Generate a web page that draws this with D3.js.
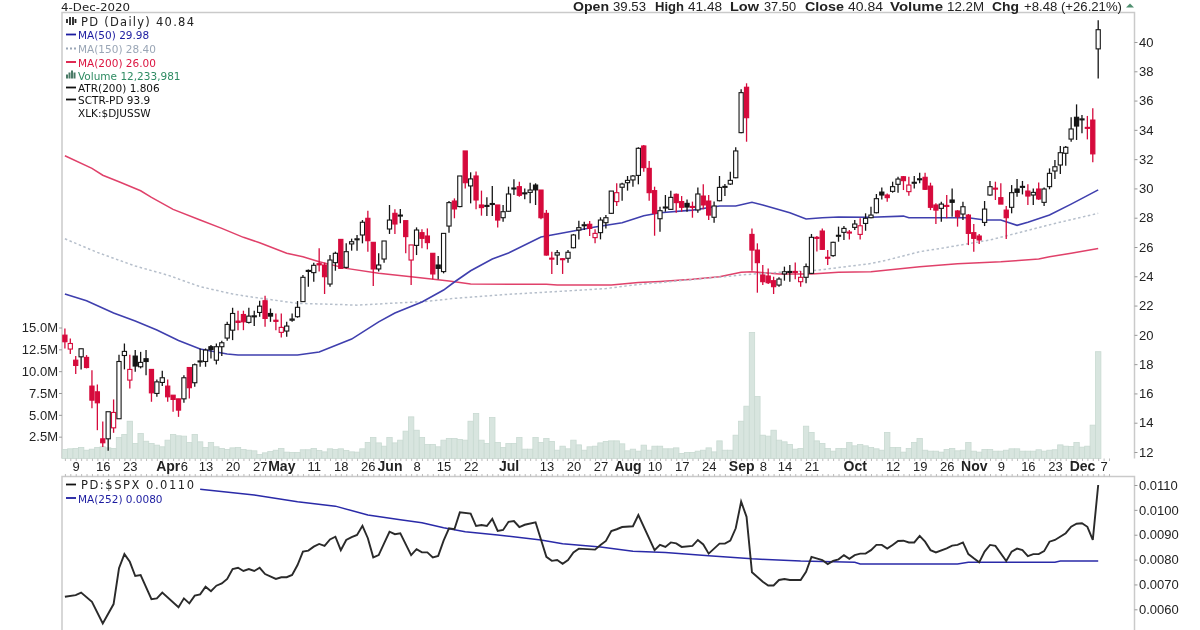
<!DOCTYPE html>
<html><head><meta charset="utf-8">
<script src="https://d3js.org/d3.v7.min.js"></script>
<style>
html,body{margin:0;padding:0;background:#fff;overflow:hidden}
svg{display:block;filter:blur(0.3px)}
text{font-family:"Liberation Sans",Arial,sans-serif;fill:#222}
.lg{font-family:"DejaVu Sans",sans-serif;font-size:10.5px}
</style></head><body>
<svg id="c" width="1200" height="630"></svg>
<script>
const opens=[19.98,19.03,18.27,18.50,18.46,16.50,16.11,12.90,12.90,13.65,
14.27,18.59,16.91,18.55,17.82,18.37,17.64,16.0,16.75,16.50,
15.88,15.63,15.63,17.77,16.73,18.18,18.18,19.19,18.27,19.19,
19.78,20.32,20.94,21.39,20.85,21.28,21.53,22.33,21.46,21.0,
20.17,20.26,21.0,21.24,22.27,24.36,24.25,24.86,24.77,23.47,
24.93,26.52,24.61,26.21,26.52,26.82,27.96,26.32,24.50,25.18,
27.23,28.30,28.12,27.80,25.11,26.11,26.98,26.75,25.57,24.77,
24.32,27.43,29.14,28.76,32.56,30.17,30.85,28.87,28.80,28.92,
28.87,28.0,28.44,30.0,30.12,29.66,29.73,30.23,29.89,28.30,
25.24,25.45,25.20,25.23,25.95,27.16,27.48,27.55,26.64,26.98,
27.66,28.30,29.10,30.08,30.39,30.58,30.89,32.90,31.37,29.85,
27.93,28.69,28.57,29.60,29.10,28.98,28.77,28.53,29.48,29.14,
28.03,29.16,30.10,30.30,30.73,33.81,36.91,26.86,25.79,24.09,
24.02,23.70,23.40,24.16,24.29,24.33,23.63,23.93,24.20,26.66,
27.09,25.30,25.41,26.77,27.0,27.02,27.34,26.86,27.61,28.0,
28.34,29.75,29.55,29.80,30.28,30.80,29.78,30.37,30.62,30.76,
30.16,28.87,28.64,28.84,29.21,28.46,28.25,28.18,26.98,26.75,
27.68,29.55,30.02,29.37,28.52,28.71,29.96,30.10,29.82,29.55,
29.96,29.05,30.12,31.19,31.60,32.40,33.37,34.86,34.71,34.17,34.67,39.53];
const highs=[20.44,19.75,18.55,19.05,18.62,17.59,16.61,14.09,14.68,15.59,
18.64,19.41,18.64,18.96,18.84,18.96,17.64,16.95,17.55,16.95,
15.88,15.63,17.25,17.77,18.05,19.07,19.07,19.30,19.41,19.60,
20.89,21.85,21.65,21.65,21.85,21.65,22.33,22.67,21.80,21.46,
21.46,20.89,21.46,22.31,24.09,24.47,24.93,25.91,24.93,25.45,
25.68,26.52,26.25,26.57,26.82,27.84,28.48,26.32,25.57,26.41,
28.87,28.57,28.60,27.80,26.14,27.34,27.21,27.27,25.57,25.39,
26.93,29.14,29.32,30.85,32.56,31.10,31.15,29.85,29.39,30.17,
28.87,28.87,30.12,30.62,30.46,30.0,30.39,30.35,29.89,28.53,
25.68,25.80,25.24,25.80,26.89,27.80,27.73,27.77,27.21,28.03,
28.18,29.82,30.35,30.39,30.85,30.92,32.81,32.97,31.87,30.12,
28.75,29.55,29.85,29.66,29.48,29.25,29.10,30.07,30.28,29.55,
29.10,30.85,30.30,31.14,32.81,36.77,37.18,27.27,26.25,24.77,
24.54,23.97,23.93,24.66,24.77,24.95,24.36,24.88,26.89,26.75,
27.27,25.79,26.36,27.39,27.43,27.16,27.84,27.96,28.30,28.75,
29.62,30.07,29.66,30.46,30.80,30.85,30.80,30.85,31.07,31.07,
30.39,28.98,29.09,29.55,30.0,28.52,29.09,28.25,27.57,26.89,
29.14,30.51,30.46,30.35,28.80,30.23,30.64,30.51,30.28,30.0,
30.41,30.07,31.37,31.94,32.90,32.90,34.86,35.74,35.01,34.95,35.47,41.48];
const lows=[19.07,18.69,17.32,17.64,17.71,14.98,13.49,12.35,12.08,13.31,
14.27,17.64,16.34,17.48,17.71,17.25,15.43,15.77,16.50,15.43,
14.75,14.40,15.36,15.66,16.45,17.82,17.82,18.39,17.98,18.55,
19.60,19.64,20.32,20.32,20.78,20.6,21.24,20.55,20.89,20.32,
19.82,19.87,20.89,21.17,22.27,23.29,23.63,24.32,22.79,23.29,
24.38,24.54,24.54,25.75,25.75,26.25,25.68,23.34,24.32,24.93,
26.89,26.89,27.62,25.57,23.40,25.45,25.91,25.84,23.79,23.79,
24.20,26.98,27.96,28.71,30.0,28.98,28.57,28.14,28.12,28.12,
27.34,27.73,28.41,29.55,29.44,29.26,28.98,28.87,27.89,25.41,
24.16,24.77,24.16,24.93,25.91,26.52,27.16,26.75,26.25,26.52,
27.27,28.25,28.80,29.16,29.85,30.12,30.28,31.14,29.16,26.77,
27.05,28.41,28.53,28.34,28.41,28.41,28.0,28.34,28.57,27.84,
27.66,29.12,29.48,30.23,30.69,33.76,33.19,24.38,22.88,23.4,
23.47,22.79,23.29,23.70,23.63,23.79,23.29,23.52,24.16,25.7,
25.79,24.77,25.34,26.36,26.48,26.52,27.16,26.52,27.11,27.96,
28.30,29.25,29.09,29.71,29.71,29.89,29.50,30.0,30.35,29.89,
28.52,27.57,27.73,27.96,28.07,27.39,27.84,26.13,25.68,26.20,
27.43,29.50,29.21,28.93,26.54,28.30,29.43,29.59,28.87,28.87,
29.21,28.80,29.94,30.64,30.98,31.55,33.19,33.31,33.76,33.35,31.78,37.50];
const closes=[19.53,19.41,17.91,19.05,17.77,15.54,15.36,12.63,14.75,14.70,
18.18,18.87,17.64,17.87,18.12,18.18,16.04,16.79,17.07,15.77,
15.59,14.86,17.07,16.39,17.96,18.22,18.96,19.0,19.19,19.46,
20.71,21.46,20.85,20.89,21.28,21.30,21.96,21.12,21.28,20.92,
20.51,20.60,21.08,21.88,23.93,24.40,24.75,24.78,23.97,25.11,
25.57,24.54,25.68,26.36,26.56,27.69,26.43,24.50,24.77,26.41,
27.84,27.57,28.18,26.71,26.14,27.16,26.59,26.30,24.16,24.54,
26.93,29.03,28.60,30.85,30.39,30.65,29.21,28.69,28.84,28.97,
27.84,28.41,29.62,30.03,29.53,29.70,29.89,29.90,28.0,25.45,
25.20,25.61,25.16,25.64,26.82,27.32,27.52,27.27,26.93,27.84,
28.0,29.82,29.71,30.30,30.55,30.85,32.74,31.42,29.71,28.30,
28.48,28.73,29.39,29.03,28.71,28.73,28.73,29.62,28.87,28.18,
28.80,30.07,30.14,30.55,32.56,36.54,34.83,25.79,24.93,23.63,
23.56,23.29,23.81,24.31,24.33,24.29,23.93,24.66,26.66,26.62,
25.84,25.26,26.32,26.80,27.27,26.98,27.57,27.45,27.96,28.18,
29.30,29.55,29.37,30.12,30.64,30.53,30.23,30.42,30.66,29.94,
28.71,28.52,28.93,28.80,29.05,28.07,28.75,26.93,26.59,26.48,
28.59,30.12,29.98,28.93,28.0,29.71,29.73,30.14,29.48,29.73,
29.28,29.96,31.03,31.48,32.44,32.81,34.06,34.26,34.75,34.15,32.36,40.84];
const redBars=[0,1,2,4,5,6,7,9,12,16,19,20,21,23,32,33,37,39,40,47,48,51,56,57,61,63,64,66,67,68,72,74,76,77,80,84,88,89,90,92,97,98,102,107,108,109,113,114,116,118,119,126,127,128,129,130,131,135,136,139,140,141,145,147,152,155,156,159,160,161,163,165,167,168,169,172,173,174,178,180,189,190];
const volumes=[1.03,1.11,1.15,1.26,.95,1.07,1.26,1.34,1.22,1.15,
2.40,2.75,4.27,1.72,2.86,1.98,1.72,1.53,1.34,2.10,
2.75,2.60,2.56,1.83,2.75,1.91,1.26,1.83,1.34,1.15,
1.03,1.22,1.26,1.03,.95,.88,.46,.65,.80,.95,
1.15,.73,.69,.69,1.0,1.0,1.15,.92,.76,1.11,
1.03,1.11,.92,.76,.73,1.11,1.83,2.40,1.79,1.41,
2.40,1.79,2.10,3.13,4.77,3.24,2.40,1.60,1.60,1.34,
2.10,2.29,2.29,2.18,2.10,4.27,5.15,2.10,1.72,4.69,
1.83,1.26,1.72,1.72,2.40,1.07,1.07,2.40,1.83,2.29,
1.95,.95,1.41,1.11,2.10,1.56,.95,1.34,1.41,1.79,
1.95,2.02,2.02,1.68,.88,1.07,.84,1.53,.95,1.41,
1.41,1.11,1.11,1.22,.57,.69,.69,.84,.95,1.22,
.76,2.02,.95,.95,2.67,4.27,5.99,14.43,7.1,2.67,
2.56,3.24,2.10,1.91,1.60,1.07,1.15,3.70,2.98,2.02,
1.72,1.15,.84,1.15,1.15,1.83,1.45,1.60,1.45,1.26,
1.11,.95,2.98,1.26,1.26,.73,1.15,1.83,2.29,.95,
.84,.84,.73,1.03,1.15,.88,.95,1.83,.84,.73,
1.03,1.03,.84,.84,.95,1.11,1.11,.84,.84,.84,
1.0,.84,.95,1.0,1.56,1.41,1.37,1.83,1.30,1.41,3.82,12.23];
const ma50=[[0,22.79],[4,22.33],[9,21.49],[13,20.94],[17,20.33],[21,19.61],[25,19.03],[30,18.69],[32,18.62],[43,18.62],[47,18.83],[53,19.71],[58,20.89],[61,21.49],[66,22.24],[70,23.06],[72,23.61],[75,24.38],[79,25.18],[82,25.59],[88,26.68],[91,26.89],[95,27.16],[98,27.36],[103,27.66],[107,28.14],[110,28.34],[116,28.52],[121,28.80],[124,28.80],[127,29.05],[129,28.87],[134,28.34],[137,27.91],[140,28.0],[143,28.05],[149,28.03],[155,28.11],[156,28.0],[167,28.0],[170,27.84],[173,27.84],[176,27.48],[178,27.69],[182,28.18],[186,28.93],[191,29.9]];
const ma150=[[0,26.56],[6,25.63],[13,24.70],[19,24.08],[25,23.29],[31,22.79],[35,22.56],[43,22.15],[51,22.07],[54,22.03],[60,22.15],[66,22.26],[72,22.49],[82,22.77],[91,22.96],[100,23.16],[105,23.40],[117,23.81],[127,24.15],[132,24.27],[139,24.41],[149,24.87],[152,25.11],[158,25.68],[162,25.91],[171,26.48],[177,27.04],[183,27.61],[191,28.3]];
const ma200=[[0,32.23],[5,31.37],[7,30.90],[10,30.46],[14,29.84],[16,29.39],[20,28.57],[25,27.84],[29,27.27],[33,26.66],[36,26.29],[41,25.57],[44,25.33],[47,24.99],[52,24.54],[58,24.20],[64,23.97],[71,23.67],[75,23.47],[89,23.45],[91,23.40],[101,23.40],[106,23.57],[110,23.65],[116,23.79],[121,23.97],[125,24.27],[127,24.31],[132,24.15],[138,24.15],[143,24.27],[149,24.31],[158,24.65],[165,24.86],[173,24.99],[180,25.18],[182,25.33],[186,25.57],[191,25.9]];
const ratio=[[0,65.05],[2,65.7],[3,66.7],[5,63],[7,54.3],[9,62.1],[10,76.5],[11,82.2],[12,79.1],[13,73.4],[14,73.8],[16,64.1],[17,64.4],[18,66.7],[21,60.8],[22,64.4],[23,62.4],[24,65.5],[25,66],[26,69.1],[27,67.3],[28,69.5],[29,70.4],[30,72.2],[31,76.2],[32,76.7],[33,75.4],[34,76.2],[35,75.4],[36,76.7],[37,74.2],[39,72.2],[40,72.9],[41,72.9],[42,73.8],[43,77.8],[44,83.2],[45,83.6],[46,85.2],[47,86.3],[48,85.5],[49,88.1],[50,89.2],[51,83.8],[52,87.9],[53,89],[54,89.9],[55,93.6],[56,88.6],[57,80.9],[58,81.8],[59,86.5],[60,91.2],[61,90.2],[62,90.6],[64,81.8],[65,84.2],[66,82.9],[67,82.9],[68,80.9],[69,81.5],[70,87.6],[71,92.6],[72,92.2],[73,99],[75,98.5],[76,93.5],[77,93.9],[78,93.5],[79,96.4],[80,91.5],[81,91.9],[82,95.2],[83,95.5],[84,93.1],[85,94],[87,95],[89,81.1],[90,79.5],[91,79.8],[92,78.3],[93,79.8],[94,82.9],[95,84.4],[98,84],[99,85.9],[100,87.5],[101,91.5],[102,92.2],[103,93.1],[105,93.4],[106,97.9],[109,83.8],[110,85.9],[111,85.1],[112,86.9],[113,86.5],[114,85.1],[116,85.5],[117,87.9],[118,86.1],[119,82.4],[121,86.4],[122,86.4],[123,87.6],[124,92.6],[125,103.3],[126,97.2],[127,74.9],[129,71.1],[130,69.6],[131,69.6],[132,71.8],[133,72.2],[134,71.8],[136,71.8],[137,75.1],[138,81.1],[140,79.8],[141,78.2],[142,79.5],[143,80.1],[144,81.8],[145,80.3],[146,81.8],[147,82.4],[148,82.4],[149,83.8],[150,85.9],[151,85.9],[152,84.4],[153,85.9],[154,87.5],[155,87.6],[156,86.9],[157,86.9],[158,89.5],[159,87.2],[160,83.8],[161,82.9],[163,84.5],[164,85.6],[165,85.9],[166,86.9],[167,82.2],[168,80.5],[169,78.9],[170,83.2],[171,85.9],[172,85.5],[174,79.4],[175,83.2],[176,84.4],[177,83.8],[178,81.4],[179,82.2],[180,82.2],[181,83.4],[182,87.2],[183,87.9],[185,90.6],[186,93.2],[187,94.4],[188,94.6],[189,93.2],[190,87.9],[191,110]];
const ratioMA=[[25,108.3],[35,106],[43,103.3],[50,101.5],[56,97.9],[62,96],[66,94.8],[70,92.8],[74,91.2],[80,89.9],[88,87.9],[92,86.4],[99,85.1],[105,83.4],[111,82.8],[119,81.5],[127,80.3],[136,79.4],[146,78.9],[147,78.2],[165,78.2],[167,78.9],[183,78.9],[184,79.4],[191,79.4]];
const dateTicks=[[2,"9"],[7,"16"],[12,"23"],[19,"Apr"],[22,"6"],[26,"13"],[31,"20"],[36,"27"],[40,"May"],[46,"11"],[51,"18"],[56,"26"],[60,"Jun"],[65,"8"],[70,"15"],[75,"22"],[82,"Jul"],[89,"13"],[94,"20"],[99,"27"],[104,"Aug"],[109,"10"],[114,"17"],[119,"24"],[125,"Sep"],[129,"8"],[133,"14"],[138,"21"],[146,"Oct"],[153,"12"],[158,"19"],[163,"26"],[168,"Nov"],[173,"9"],[178,"16"],[183,"23"],[188,"Dec"],[192,"7"]];
const priceTicks=[12,14,16,18,20,22,24,26,28,30,32,34,36,38,40];
const volumeTicks=[2.5,5,7.5,10,12.5,15];
const ratioTicks=[.006,.007,.008,.009,.01,.011];
const legendRows=[["MA(50) 29.98","#1c1ca0","solid"],["MA(150) 28.40","#9aa6b6","dot"],["MA(200) 26.00","#dc1440","solid"],["Volume 12,233,981","#2e8b62","bars"],["ATR(200) 1.806","#111","solid"],["SCTR-PD 93.9","#111","solid"],["XLK:$DJUSSW","#111","none"]];
const headerItems=[["Open",573,1,36],["39.53",613,0,33],["High",655,1,29],["41.48",688,0,34],["Low",730,1,29],["37.50",764,0,32],["Close",805,1,39],["40.84",848,0,35],["Volume",890,1,53],["12.2M",947,0,37],["Chg",992,1,27],["+8.48 (+26.21%)",1024,0,98]];

const svg=d3.select("#c");
const L=62,R=1134.5,T=12.5,B1=458.5,T2=476.5,B2=632;
const x=d3.scaleLinear().domain([0,191]).range([64.9,1098.2]);
const yP=d3.scaleLinear().domain([12,40]).range([452,42]);
const yV=d3.scaleLinear().domain([0,15]).range([B1,327.5]);
const yR=d3.scaleLinear().domain([.006,.011]).range([609.3,485]);
const RED="#d60a3c",BLK="#151515",W=x(1)-x(0);

// frames
svg.append("path").attr("d",`M${L},${B1}V${T}H${R}V${B1}`).attr("fill","none").attr("stroke","#cacaca").attr("stroke-width",1.5);
svg.append("path").attr("d",`M${L},${B2}V${T2}H${R}V${B2}`).attr("fill","none").attr("stroke","#cacaca").attr("stroke-width",1.5);

// volume
svg.append("g").selectAll("rect").data(volumes).join("rect")
 .attr("x",(d,i)=>x(i)-W/2).attr("width",W).attr("y",d=>yV(d)).attr("height",d=>B1-yV(d))
 .attr("fill","#d8e5df").attr("stroke","#c9dad2").attr("stroke-width",.8);

// moving averages
const line=(sx,sy)=>d3.line().x(d=>sx(d[0])).y(d=>sy(d[1]));
const lp=line(x,yP);
svg.append("path").attr("d",lp(ma200)).attr("fill","none").attr("stroke","#e0416a").attr("stroke-width",1.5);
svg.append("path").attr("d",lp(ma150)).attr("fill","none").attr("stroke","#b6bfcb").attr("stroke-width",1.5).attr("stroke-dasharray","2.5 2.5");
svg.append("path").attr("d",lp(ma50)).attr("fill","none").attr("stroke","#3f3fae").attr("stroke-width",1.6);

// candles
const isRed=new Set(redBars);
const cand=svg.append("g").selectAll("g").data(closes).join("g");
const col=(d,i)=>isRed.has(i)?RED:BLK;
cand.append("line").attr("x1",(d,i)=>x(i)).attr("x2",(d,i)=>x(i)).attr("y1",(d,i)=>yP(highs[i])).attr("y2",(d,i)=>yP(lows[i])).attr("stroke",col).attr("stroke-width",1.3);
cand.append("rect").attr("x",(d,i)=>x(i)-2.1).attr("width",4.2)
 .attr("y",(d,i)=>yP(Math.max(opens[i],d)))
 .attr("height",(d,i)=>Math.max(1,Math.abs(yP(opens[i])-yP(d))))
 .attr("fill",(d,i)=>d<opens[i]?col(d,i):"#fff").attr("stroke",col).attr("stroke-width",1.1);

// axes
function style(g,sz){g.select(".domain").remove();g.selectAll("line").attr("stroke","#999");g.selectAll("text").style("font-size",sz+"px").attr("fill","#222");}
svg.append("g").attr("transform",`translate(${R},0)`).call(d3.axisRight(yP).tickValues(priceTicks).tickSize(3).tickPadding(1.5)).call(g=>style(g,13));
svg.append("g").attr("transform",`translate(${L},0)`).call(d3.axisLeft(yV).tickValues(volumeTicks).tickSize(3).tickPadding(1).tickFormat(d=>d.toFixed(1)+"M")).call(g=>style(g,13));
svg.append("g").attr("transform",`translate(${R},0)`).call(d3.axisRight(yR).tickValues(ratioTicks).tickSize(3).tickPadding(1.5).tickFormat(d3.format(".4f"))).call(g=>style(g,13));
const dots=d3.range(0,194);
[B1,T2-2.5].forEach(yy=>svg.append("g").attr("transform",`translate(0,${yy})`).call(d3.axisBottom(x).tickValues(dots).tickSize(2.5).tickFormat("")).call(g=>{g.select(".domain").remove();g.selectAll("line").attr("stroke","#bbb");}));
const labelOf=new Map(dateTicks);
svg.append("g").attr("transform",`translate(0,${B1})`).call(d3.axisBottom(x).tickValues(dateTicks.map(d=>d[0])).tickSize(0).tickPadding(3).tickFormat(d=>labelOf.get(d))).call(g=>{
 g.select(".domain").remove();
 g.selectAll("text").style("font-size",d=>isNaN(+labelOf.get(d))?"14px":"13px").style("font-weight",d=>isNaN(+labelOf.get(d))?"bold":"normal").attr("fill","#222");
});

// lower panel
const lr=d3.line().x(d=>x(d[0])).y(d=>yR(d[1]/10000));
svg.append("path").attr("d",lr(ratioMA)).attr("fill","none").attr("stroke","#2a2aa8").attr("stroke-width",1.5);
svg.append("path").attr("d",lr(ratio)).attr("fill","none").attr("stroke","#2a2a2a").attr("stroke-width",1.9);

// header
svg.append("text").attr("class","lg").attr("x",61).attr("y",10.5).attr("textLength",69).attr("lengthAdjust","spacingAndGlyphs").style("font-size","11px").text("4-Dec-2020");
svg.append("g").selectAll("text").data(headerItems).join("text").attr("x",d=>d[1]).attr("y",11)
 .attr("textLength",d=>d[3]).attr("lengthAdjust","spacingAndGlyphs")
 .style("font-size","12px").style("font-weight",d=>d[2]?"bold":"normal").text(d=>d[0]);
svg.append("path").attr("d","M1126,7.5L1130,3.5L1134,7.5Z").attr("fill","#4f8f6f");

// legend
const lg=svg.append("g");
lg.append("text").attr("class","lg").attr("x",81).attr("y",25.5).attr("textLength",113).style("font-size","11.5px").text("PD (Daily) 40.84");
[[67,19,23],[70,17,25],[73,17,25],[75.5,19,23]].forEach(a=>lg.append("line").attr("x1",a[0]).attr("x2",a[0]).attr("y1",a[1]).attr("y2",a[2]).attr("stroke","#222").attr("stroke-width",1.8));
legendRows.forEach((r,i)=>{
 const yy=[35,49,62.5,75.5,88,100,112.7][i];
 lg.append("text").attr("class","lg").attr("x",78).attr("y",yy+4).style("fill",r[1]).text(r[0]);
 if(r[2]==="solid")lg.append("line").attr("x1",66).attr("x2",76).attr("y1",yy-.5).attr("y2",yy-.5).attr("stroke",r[1]).attr("stroke-width",1.8);
 if(r[2]==="dot")lg.append("line").attr("x1",66).attr("x2",76).attr("y1",yy-.5).attr("y2",yy-.5).attr("stroke",r[1]).attr("stroke-width",1.8).attr("stroke-dasharray","2 2");
 if(r[2]==="bars")[[66,4],[68.5,6],[71,8],[73.5,6]].forEach(b=>lg.append("rect").attr("x",b[0]).attr("width",2).attr("y",yy+3-b[1]).attr("height",b[1]).attr("fill","#4a7a66"));
});
lg.append("line").attr("x1",66).attr("x2",76).attr("y1",484.5).attr("y2",484.5).attr("stroke","#111").attr("stroke-width",1.8);
lg.append("text").attr("class","lg").attr("x",81).attr("y",489).attr("textLength",113).style("font-size","11.5px").text("PD:$SPX 0.0110");
lg.append("line").attr("x1",66).attr("x2",76).attr("y1",498).attr("y2",498).attr("stroke","#1c1ca0").attr("stroke-width",1.8);
lg.append("text").attr("class","lg").attr("x",78).attr("y",503).style("fill","#1c1ca0").text("MA(252) 0.0080");
</script></body></html>
